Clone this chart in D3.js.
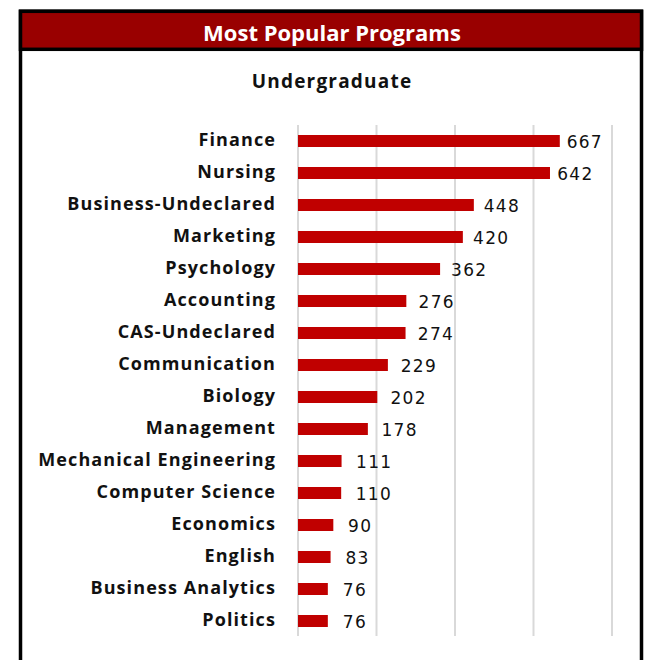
<!DOCTYPE html>
<html>
<head>
<meta charset="utf-8">
<script src="https://cdn.jsdelivr.net/npm/d3@7"></script>
<style>
  body { margin: 0; background: #fff; }
  .cat { font-family: "Open Sans", sans-serif; font-weight: bold; font-size: 18px; fill: #111; letter-spacing: 1.1px; }
  .val { font-family: "DejaVu Sans", sans-serif; font-size: 17px; fill: #111; letter-spacing: 1.3px; }
</style>
</head>
<body>
<svg class="chart"></svg>
<script>
// chart data
var programs = ["Finance", "Nursing", "Business-Undeclared", "Marketing", "Psychology",
  "Accounting", "CAS-Undeclared", "Communication", "Biology", "Management",
  "Mechanical Engineering", "Computer Science", "Economics", "English",
  "Business Analytics", "Politics"];
var students = [667, 642, 448, 420, 362, 276, 274, 229, 202, 178, 111, 110, 90, 83, 76, 76];
var gridTicks = [0, 200, 400, 600, 800];

var title = "Most Popular Programs";
var subtitle = "Undergraduate";

var W = 647, H = 660;

var data = programs.map(function(p, i) { return {name: p, value: students[i]}; });

var svg = d3.select(".chart")
  .attr("width", W)
  .attr("height", H);

svg.append("rect").attr("width", W).attr("height", H).attr("fill", "#fff");

// frame
svg.append("rect")
  .attr("x", 20.5).attr("y", 11.3)
  .attr("width", 621).attr("height", 700)
  .attr("fill", "#fff")
  .attr("stroke", "#000")
  .attr("stroke-width", 3.5);

// header band
svg.append("rect")
  .attr("x", 20.5).attr("y", 11.3)
  .attr("width", 621).attr("height", 38)
  .attr("fill", "#990000")
  .attr("stroke", "#000")
  .attr("stroke-width", 3.5);

svg.append("text")
  .attr("x", 332).attr("y", 40.5)
  .attr("text-anchor", "middle")
  .style("font-family", "'Open Sans', sans-serif")
  .style("font-weight", "bold")
  .style("font-size", "22px")
  .style("fill", "#fff")
  .text(title);

svg.append("text")
  .attr("x", 332).attr("y", 88)
  .attr("text-anchor", "middle")
  .style("font-family", "'Open Sans', sans-serif")
  .style("font-weight", "bold")
  .style("font-size", "19px")
  .style("letter-spacing", "1.2px")
  .style("fill", "#111")
  .text(subtitle);

// scales
var x = d3.scaleLinear()
  .domain([0, 800])
  .range([298, 612]);

var y = d3.scaleBand()
  .domain(programs)
  .range([125, 637])
  .paddingInner(0.625)
  .paddingOuter(0.3125);

// data labels drift slightly left of the bar ends as values grow
var labelX = d3.scaleLinear()
  .domain([0, 800])
  .range([314, 617]);

// gridlines
svg.append("g")
  .selectAll("line")
  .data(gridTicks)
  .enter().append("line")
  .attr("x1", function(d) { return x(d); })
  .attr("x2", function(d) { return x(d); })
  .attr("y1", 125)
  .attr("y2", 636)
  .attr("stroke", "#d9d9d9")
  .attr("stroke-width", 2);

// bars
svg.append("g")
  .selectAll("rect")
  .data(data)
  .enter().append("rect")
  .attr("x", x(0))
  .attr("y", function(d) { return y(d.name); })
  .attr("width", function(d) { return x(d.value) - x(0); })
  .attr("height", y.bandwidth())
  .attr("fill", "#c00000");

// category labels
svg.append("g")
  .selectAll("text")
  .data(data)
  .enter().append("text")
  .attr("class", "cat")
  .attr("x", 276)
  .attr("y", function(d) { return y(d.name) + y.bandwidth() / 2 - 1; })
  .attr("dy", "0.35em")
  .attr("text-anchor", "end")
  .text(function(d) { return d.name; });

// value labels
svg.append("g")
  .selectAll("text")
  .data(data)
  .enter().append("text")
  .attr("class", "val")
  .attr("x", function(d) { return labelX(d.value); })
  .attr("y", function(d) { return y(d.name) + y.bandwidth() / 2 + 1; })
  .attr("dy", "0.35em")
  .text(function(d) { return d.value; });
</script>
</body>
</html>
